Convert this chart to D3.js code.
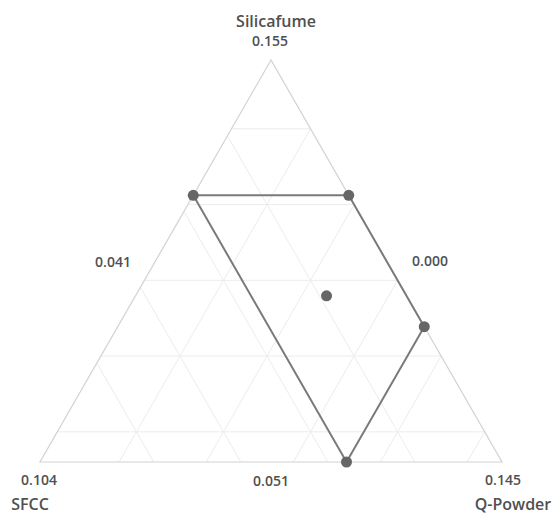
<!DOCTYPE html>
<html>
<head>
  <meta charset="utf-8">
  <script src="https://d3js.org/d3.v7.min.js"></script>
<style>
  body { margin: 0; background: #fff; }
  svg { display: block; }
  text { font-family: "Open Sans", "Noto Sans", sans-serif; fill: #505050; }
</style>
</head>
<body>
<script>
  // components: top, bottom-left, bottom-right
  var components = ["Silicafume", "SFCC", "Q-Powder"];
  var lows  = [0.051, 0.000, 0.041];
  var highs = [0.155, 0.104, 0.145];

  // grid levels (component units)
  var silicafumeTicks = [0.0588, 0.0784, 0.098, 0.1176, 0.1372];
  var sfccTicks       = [0.0196, 0.0392, 0.0588, 0.0784];
  var qpowderTicks    = [0.0588, 0.0784, 0.098, 0.1176, 0.1372];

  // design points (Silicafume, SFCC, Q-Powder)
  var silicafume = [0.120, 0.120, 0.086, 0.051, 0.094];
  var sfcc       = [0.035, 0.000, 0.000, 0.035, 0.018];
  var qpowder    = [0.041, 0.076, 0.110, 0.110, 0.084];
  var hullOrder  = [0, 1, 2, 3];

  var width = 559, height = 515;
  var vTop = [271, 60], vLeft = [40, 462], vRight = [502, 462];

  var svg = d3.select("body").append("svg")
      .attr("width", width)
      .attr("height", height);

  var scales = lows.map(function (lo, i) {
    return d3.scaleLinear().domain([lo, highs[i]]).range([0, 1]);
  });

  // barycentric fractions -> pixel
  function toXY(t, l, r) {
    return [t * vTop[0] + l * vLeft[0] + r * vRight[0],
            t * vTop[1] + l * vLeft[1] + r * vRight[1]];
  }
  function valXY(i) {
    return toXY(scales[0](silicafume[i]), scales[1](sfcc[i]), scales[2](qpowder[i]));
  }

  // grid
  var grid = svg.append("g").attr("class", "grid")
      .attr("stroke", "#ececec").attr("stroke-width", 1).attr("fill", "none");
  var gridLines = [];
  silicafumeTicks.forEach(function (v) {
    var f = scales[0](v);
    gridLines.push([toXY(f, 1 - f, 0), toXY(f, 0, 1 - f)]);
  });
  sfccTicks.forEach(function (v) {
    var f = scales[1](v);
    gridLines.push([toXY(1 - f, f, 0), toXY(0, f, 1 - f)]);
  });
  qpowderTicks.forEach(function (v) {
    var f = scales[2](v);
    gridLines.push([toXY(1 - f, 0, f), toXY(0, 1 - f, f)]);
  });
  grid.selectAll("line").data(gridLines).enter().append("line")
      .attr("x1", function (d) { return d[0][0]; })
      .attr("y1", function (d) { return d[0][1]; })
      .attr("x2", function (d) { return d[1][0]; })
      .attr("y2", function (d) { return d[1][1]; });

  // outline
  svg.append("path")
      .attr("d", d3.line()([vTop, vLeft, vRight]) + "Z")
      .attr("fill", "none")
      .attr("stroke", "#d2d2d2")
      .attr("stroke-width", 1.2);

  // design region
  svg.append("path")
      .attr("d", d3.line()(hullOrder.map(valXY)) + "Z")
      .attr("fill", "none")
      .attr("stroke", "#7a7a7a")
      .attr("stroke-width", 2);

  svg.selectAll("circle.pt").data(silicafume).enter().append("circle")
      .attr("class", "pt")
      .attr("cx", function (d, i) { return valXY(i)[0]; })
      .attr("cy", function (d, i) { return valXY(i)[1]; })
      .attr("r", 5.5)
      .attr("fill", "#666");

  // labels
  var fmt = d3.format(".3f");
  var labels = [
    {t: components[0], x: 276, y: 27, s: 16, w: 600},
    {t: fmt(highs[0]), x: 270, y: 46, s: 14, w: 600},
    {t: fmt(highs[1]), x: 39, y: 485, s: 14, w: 600},
    {t: components[1], x: 30, y: 510, s: 16, w: 600},
    {t: fmt(highs[2]), x: 503, y: 485, s: 14, w: 600},
    {t: components[2], x: 513, y: 510, s: 16, w: 600},
    {t: fmt(lows[2]), x: 113, y: 267, s: 14, w: 600},
    {t: fmt(lows[1]), x: 430, y: 266, s: 14, w: 600},
    {t: fmt(lows[0]), x: 271, y: 486, s: 14, w: 600}
  ];
  svg.selectAll("text.lbl").data(labels).enter().append("text")
      .attr("class", "lbl")
      .attr("x", function (d) { return d.x; })
      .attr("y", function (d) { return d.y; })
      .attr("text-anchor", "middle")
      .style("font-size", function (d) { return d.s + "px"; })
      .style("font-weight", function (d) { return d.w; })
      .text(function (d) { return d.t; });
</script>
</body>
</html>
